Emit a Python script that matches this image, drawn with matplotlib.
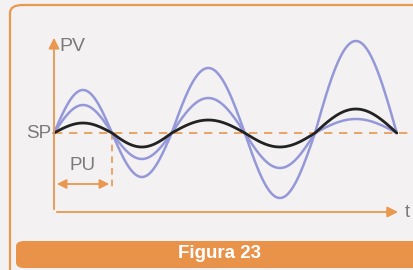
import matplotlib.pyplot as plt
import numpy as np
from matplotlib.patches import FancyBboxPatch

# zero crossings on the SP line (time units) and half-wave peaks of each curve
crossings = [0.0, 1.0, 2.03, 3.29, 4.5, 5.91]
peaks_large = [4.3, -4.4, 6.5, -6.5, 9.2]
peaks_mid = [2.8, -2.6, 3.5, -3.5, 1.4]
peaks_black = [1.0, -1.4, 1.3, -1.4, 2.4]

orange = "#E9984F"
blue = "#9598D8"
grey = "#7A7A7A"


def wave(peaks):
    """Join one half sine wave per interval between crossings."""
    xs, ys = [], []
    for i, p in enumerate(peaks):
        t = np.linspace(crossings[i], crossings[i + 1], 60)
        xs.append(t)
        ys.append(p * np.sin(np.pi * (t - crossings[i]) / (crossings[i + 1] - crossings[i])))
    return np.concatenate(xs), np.concatenate(ys)


fig = plt.figure(figsize=(4.14, 2.70), dpi=100)
fig.patch.set_facecolor("#F3F1F1")
ax = fig.add_axes([0, 0, 1, 1])
ax.set_facecolor("#F3F1F1")
ax.set_xlim(-54 / 58, 360 / 58)
ax.set_ylim(-13.7, 13.3)
ax.axis("off")

# outer frame and caption banner (figure fractions)
ax.add_patch(FancyBboxPatch((10 / 414, -0.05), 1.2, 1.05 - 5 / 270,
                            boxstyle="round,pad=0,rounding_size=0.03",
                            transform=ax.transAxes, fill=False,
                            edgecolor=orange, lw=1.6, clip_on=False))
ax.add_patch(FancyBboxPatch((16 / 414, 2 / 270), 1.2, 27 / 270,
                            boxstyle="round,pad=0,rounding_size=0.02",
                            transform=ax.transAxes, facecolor="#E8924A",
                            edgecolor="none"))
ax.text(220 / 414, 16 / 270, "Figura 23", transform=ax.transAxes,
        ha="center", va="center", color="white", fontsize=13.5,
        fontweight="bold", family="Liberation Sans")

# axes with arrows
y0 = -7.9
ax.annotate("", xy=(0, 9.8), xytext=(0, y0),
            arrowprops=dict(arrowstyle="-|>", color=orange, lw=1.3, mutation_scale=16))
ax.annotate("", xy=(5.98, y0), xytext=(0, y0),
            arrowprops=dict(arrowstyle="-|>", color=orange, lw=1.3, mutation_scale=16))
ax.text(0.1, 8.7, "PV", color=grey, fontsize=14, va="center", family="Liberation Sans")
ax.text(6.05, y0, "t", color=grey, fontsize=13, va="center", family="Liberation Sans")
ax.text(-0.05, 0, "SP", color=grey, fontsize=13.5, va="center", ha="right",
        family="Liberation Sans")

# set point line
ax.plot([0, 6.15], [0, 0], color=orange, lw=1.2, ls=(0, (5, 4)))

# ultimate period marker
ax.plot([1.0, 1.0], [0, -5.8], color=orange, lw=1.2, ls=(0, (4, 3)))
ax.annotate("", xy=(0.0, -5.1), xytext=(1.0, -5.1),
            arrowprops=dict(arrowstyle="<|-|>", color=orange, lw=1.3, mutation_scale=14))
ax.text(0.5, -3.2, "PU", color=grey, fontsize=13.5, ha="center", va="center",
        family="Liberation Sans")

for peaks, col, lw in [(peaks_large, blue, 1.8), (peaks_mid, blue, 1.8),
                       (peaks_black, "#222222", 2.0)]:
    x, y = wave(peaks)
    ax.plot(x, y, color=col, lw=lw, solid_capstyle="round")

fig.savefig("out.png", dpi=100, facecolor=fig.get_facecolor())
